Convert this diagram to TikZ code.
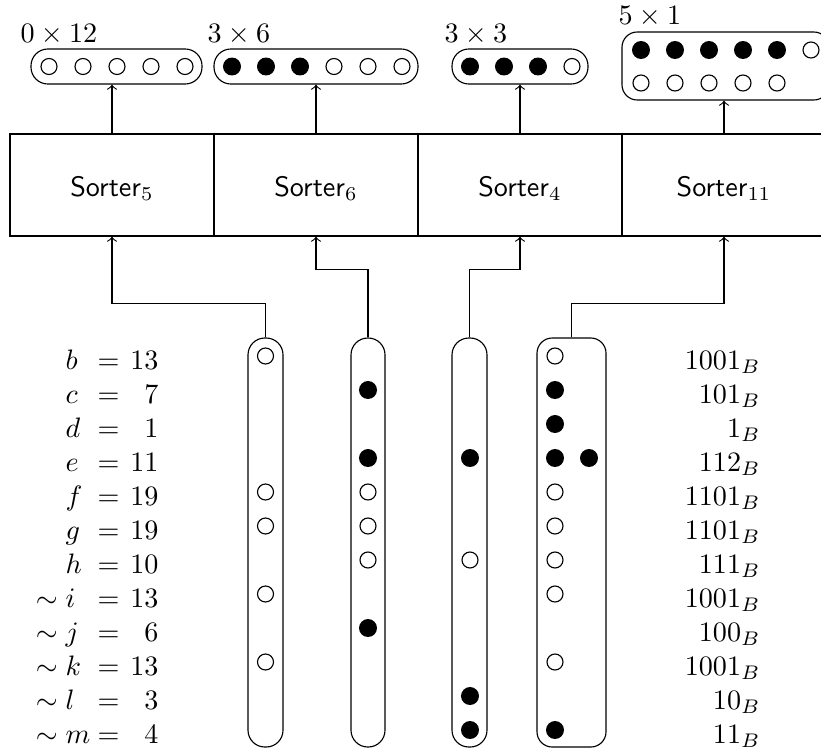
\documentclass[tikz,border=0pt]{standalone}
\usetikzlibrary{fit}
\begin{document}
\begin{tikzpicture}[x=0.0125cm,y=-0.0125cm,
  every node/.style={inner sep=0pt},
  wd/.style={circle,draw,minimum size=0.2cm},
  bd/.style={circle,draw,fill=black,minimum size=0.21cm},
  pill/.style={draw,rounded corners=0.21cm,inner sep=0pt},
  boxpill/.style={draw,rounded corners=0.19cm,inner sep=0pt},
  sorter/.style={draw,minimum width=2.55cm,minimum height=1.275cm,anchor=center},
  lbl/.style={anchor=base},
  arr/.style={->}]
\useasboundingbox (0,0) rectangle (821,754);

% sorter boxes
\node[sorter] (s1) at (112,185) {};
\node[sorter] (s2) at (316,185) {};
\node[sorter] (s3) at (520,185) {};
\node[sorter] (s4) at (724,185) {};
\node[lbl] (l1) at (112,196) {\textsf{Sorter}$_{5}$};
\node[lbl] (l2) at (316,196) {\textsf{Sorter}$_{6}$};
\node[lbl] (l3) at (520,196) {\textsf{Sorter}$_{4}$};
\node[lbl] (l4) at (724,196) {\textsf{Sorter}$_{11}$};

% top pills
\node[pill,fit={(31,49)(202,84)}] (t1) {};
\node[pill,fit={(214,49)(418,84)}] (t2) {};
\node[pill,fit={(452,49)(588,84)}] (t3) {};
\node[boxpill,fit={(622,32)(829,100)}] (t4) {};
\node[anchor=base west] (h1) at (20,43) {$0\times 12$};
\node[anchor=base west] (h2) at (207,43) {$3\times 6$};
\node[anchor=base west] (h3) at (444,43) {$3\times 3$};
\node[anchor=base west] (h4) at (618,25) {$5\times 1$};

\foreach \i/\x in {1/49,2/83,3/117,4/151,5/185}
  \node[wd] (t1c\i) at (\x,66.5) {};
\foreach \i/\x/\s in {1/232/bd,2/266/bd,3/300/bd,4/334/wd,5/368/wd,6/402/wd}
  \node[\s] (t2c\i) at (\x,66.5) {};
\foreach \i/\x/\s in {1/470/bd,2/504/bd,3/538/bd,4/572/wd}
  \node[\s] (t3c\i) at (\x,66.5) {};
\foreach \i/\x/\s in {1/641/bd,2/675/bd,3/709/bd,4/743/bd,5/777/bd,6/811/wd}
  \node[\s] (t4a\i) at (\x,50) {};
\foreach \i/\x in {1/641,2/675,3/709,4/743,5/777}
  \node[wd] (t4b\i) at (\x,83) {};

% arrows to top pills
\draw[arr] (s1.north) -- (s1.north |- t1.south);
\draw[arr] (s2.north) -- (s2.north |- t2.south);
\draw[arr] (s3.north) -- (s3.north |- t3.south);
\draw[arr] (s4.north) -- (s4.north |- t4.south);

% bottom pills
\node[pill,fit={(248,338)(283,747)}] (p1) {};
\node[pill,fit={(351,338)(385,747)}] (p2) {};
\node[pill,fit={(452,338)(487,747)}] (p3) {};
\node[boxpill,fit={(537,338)(606,747)}] (p4) {};

\draw[arr] (p1.north) -- ++(0,-34) -| (s1.south);
\draw[arr] (p2.north) -- ++(0,-68) -| (s2.south);
\draw[arr] (p3.north) -- ++(0,-68) -| (s3.south);
\draw[arr] (p4.north) -- ++(0,-34) -| (s4.south);

% dots in columns
\foreach \kk/\s in {0/wd,4/wd,5/wd,7/wd,9/wd}
  \node[\s] (a\kk) at (265.5,356+34*\kk) {};
\foreach \kk/\s in {1/bd,3/bd,4/wd,5/wd,6/wd,8/bd}
  \node[\s] (b\kk) at (368,356+34*\kk) {};
\foreach \kk/\s in {3/bd,6/wd,10/bd,11/bd}
  \node[\s] (c\kk) at (470,356+34*\kk) {};
\foreach \kk/\s in {0/wd,1/bd,2/bd,3/bd,4/wd,5/wd,6/wd,7/wd,9/wd,11/bd}
  \node[\s] (d\kk) at (555,356+34*\kk) {};
\node[bd] (e3) at (589,458) {};

% labels
\foreach \kk/\vr/\nm/\rb/\tld in {0/b/13/1001/0,1/c/7/101/0,2/d/1/1/0,3/e/11/112/0,
   4/f/19/1101/0,5/g/19/1101/0,6/h/10/111/0,7/i/13/1001/1,8/j/6/100/1,
   9/k/13/1001/1,10/l/3/10/1,11/m/4/11/1}{
  \node[anchor=base west] (v\kk) at (65,369+34*\kk) {\ifnum\tld=1 \llap{$\sim\;$}\fi$\vr$};
  \node[anchor=base] (q\kk) at (108.5,369+34*\kk) {$=$};
  \node[anchor=base east] (n\kk) at (159,369+34*\kk) {$\nm$};
  \node[anchor=base east] (r\kk) at (761,369+34*\kk) {$\rb_B$};
}
\end{tikzpicture}
\end{document}
